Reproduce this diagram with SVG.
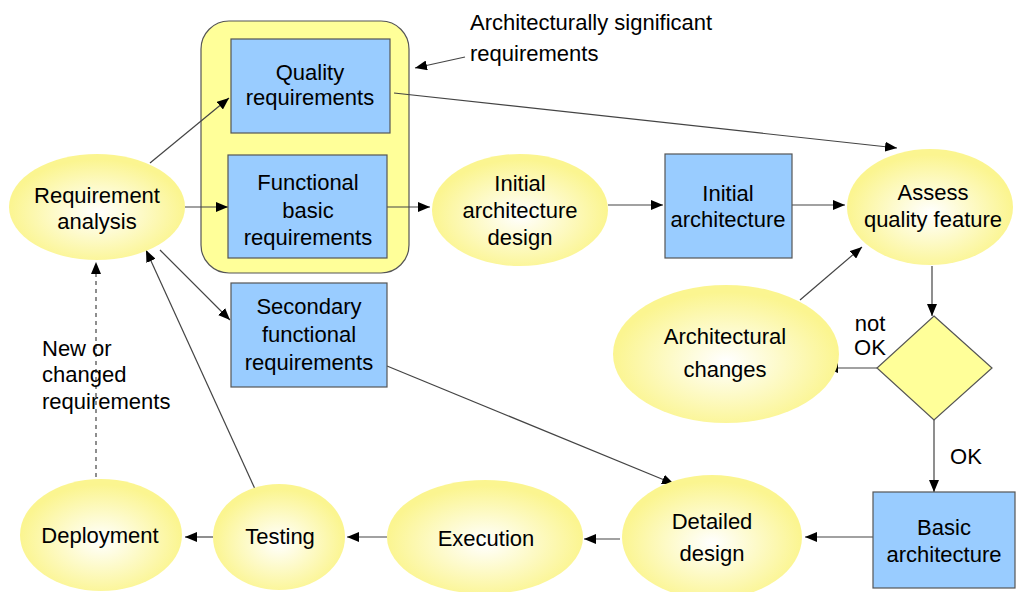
<svg xmlns="http://www.w3.org/2000/svg" width="1017" height="592" viewBox="0 0 1017 592">
  <defs>
    <radialGradient id="glow" cx="50%" cy="55%" r="50%">
      <stop offset="0%" stop-color="#ffffff"/>
      <stop offset="100%" stop-color="#fbf590"/>
    </radialGradient>
    <marker id="arrow" markerWidth="12" markerHeight="10" refX="12" refY="5" orient="auto" markerUnits="userSpaceOnUse">
      <path d="M0,0 L12,5 L0,10 Z" fill="#000"/>
    </marker>
  </defs>
  <style>
    text { font-family: "Liberation Sans", Arial, sans-serif; font-size: 22px; fill: #000; }
    .c { text-anchor: middle; }
    .ell { fill: url(#glow); stroke: none; }
    .box { fill: #99ccff; stroke: #555; stroke-width: 1.2; }
    .grp { fill: #ffff99; stroke: #555; stroke-width: 1.2; }
    .dia { fill: #ffff99; stroke: #555; stroke-width: 1.2; }
    .ln { fill: none; stroke: #444; stroke-width: 1.2; marker-end: url(#arrow); }
    .dash { stroke-dasharray: 4 4; }
  </style>

  <rect class="grp" x="201" y="21" width="208" height="252" rx="28" ry="28"/>

  <g id="connectors">
    <line class="ln" x1="150" y1="163" x2="229" y2="98"/>
    <line class="ln" x1="185" y1="207" x2="228" y2="207"/>
    <line class="ln" x1="160" y1="250" x2="230" y2="320"/>
    <line class="ln" x1="387" y1="207" x2="430" y2="207"/>
    <line class="ln" x1="608" y1="205" x2="663" y2="205"/>
    <line class="ln" x1="792" y1="205" x2="845" y2="205"/>
    <line class="ln" x1="394" y1="93" x2="897" y2="148"/>
    <line class="ln" x1="800" y1="300" x2="862" y2="247"/>
    <line class="ln" x1="932" y1="266" x2="932" y2="316"/>
    <line class="ln" x1="877" y1="368" x2="826" y2="368"/>
    <line class="ln" x1="934" y1="420" x2="934" y2="492"/>
    <line class="ln" x1="873" y1="537" x2="805" y2="537"/>
    <line class="ln" x1="387" y1="366" x2="674" y2="484"/>
    <line class="ln" x1="620" y1="539" x2="584" y2="539"/>
    <line class="ln" x1="387" y1="537" x2="347" y2="537"/>
    <line class="ln" x1="213" y1="537" x2="185" y2="537"/>
    <line class="ln" x1="255" y1="489" x2="146" y2="250"/>
    <line class="ln dash" x1="96" y1="477" x2="96" y2="262"/>
    <line class="ln" x1="465" y1="57" x2="415" y2="68"/>
  </g>

  <g id="requirement-analysis">
    <ellipse class="ell" cx="97" cy="207" rx="88" ry="53"/>
    <text class="c" x="97" y="203">Requirement</text>
    <text class="c" x="97" y="229">analysis</text>
  </g>

  <g id="quality-requirements">
    <rect class="box" x="231" y="39" width="159" height="94"/>
    <text class="c" x="310" y="80">Quality</text>
    <text class="c" x="310" y="105">requirements</text>
  </g>

  <g id="functional-basic-requirements">
    <rect class="box" x="228" y="155" width="159" height="103"/>
    <text class="c" x="308" y="190">Functional</text>
    <text class="c" x="308" y="218">basic</text>
    <text class="c" x="308" y="245">requirements</text>
  </g>

  <g id="secondary-functional-requirements">
    <rect class="box" x="231" y="283" width="156" height="104"/>
    <text class="c" x="309" y="314">Secondary</text>
    <text class="c" x="309" y="342">functional</text>
    <text class="c" x="309" y="370">requirements</text>
  </g>

  <g id="initial-architecture-design">
    <ellipse class="ell" cx="520" cy="210" rx="88" ry="56"/>
    <text class="c" x="520" y="191">Initial</text>
    <text class="c" x="520" y="218">architecture</text>
    <text class="c" x="520" y="245">design</text>
  </g>

  <g id="initial-architecture">
    <rect class="box" x="665" y="154" width="127" height="104"/>
    <text class="c" x="728" y="201">Initial</text>
    <text class="c" x="728" y="227">architecture</text>
  </g>

  <g id="assess-quality-feature">
    <ellipse class="ell" cx="930" cy="207" rx="83" ry="58"/>
    <text class="c" x="933" y="200">Assess</text>
    <text class="c" x="933" y="227">quality feature</text>
  </g>

  <g id="architectural-changes">
    <ellipse class="ell" cx="726" cy="354" rx="113" ry="69"/>
    <text class="c" x="725" y="344">Architectural</text>
    <text class="c" x="725" y="377">changes</text>
  </g>

  <g id="decision">
    <polygon class="dia" points="934,316 992,368 934,420 877,368"/>
    <text class="c" x="870" y="331">not</text>
    <text class="c" x="870" y="355">OK</text>
    <text class="c" x="966" y="464">OK</text>
  </g>

  <g id="basic-architecture">
    <rect class="box" x="873" y="492" width="142" height="96"/>
    <text class="c" x="944" y="535">Basic</text>
    <text class="c" x="944" y="562">architecture</text>
  </g>

  <g id="detailed-design">
    <ellipse class="ell" cx="712" cy="537" rx="90" ry="62"/>
    <text class="c" x="712" y="529">Detailed</text>
    <text class="c" x="712" y="561">design</text>
  </g>

  <g id="execution">
    <ellipse class="ell" cx="485" cy="537" rx="98" ry="57"/>
    <text class="c" x="486" y="546">Execution</text>
  </g>

  <g id="testing">
    <ellipse class="ell" cx="279" cy="537" rx="66" ry="53"/>
    <text class="c" x="280" y="544">Testing</text>
  </g>

  <g id="deployment">
    <ellipse class="ell" cx="101" cy="535" rx="81" ry="56"/>
    <text class="c" x="100" y="543">Deployment</text>
  </g>

  <g id="labels">
    <text x="470" y="30">Architecturally significant</text>
    <text x="470" y="61">requirements</text>
    <text x="42" y="356">New or</text>
    <text x="42" y="382">changed</text>
    <text x="42" y="409">requirements</text>
  </g>
</svg>
